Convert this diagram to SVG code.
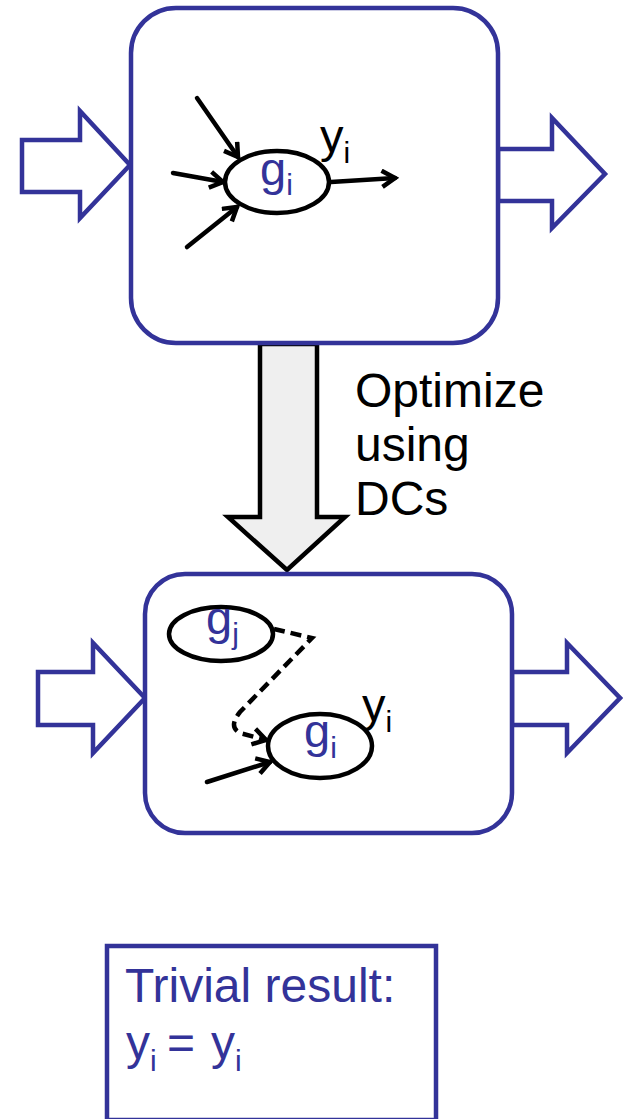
<svg xmlns="http://www.w3.org/2000/svg" width="623" height="1119" viewBox="0 0 623 1119">
<style>
.blk{fill:#fff;stroke:#333399;stroke-width:4.5;stroke-linejoin:miter}
.box{fill:#fff;stroke:#333399;stroke-width:4.5}
.node{fill:#fff;stroke:#000;stroke-width:4.5}
.wire{fill:none;stroke:#000;stroke-width:4.5;stroke-linecap:round}
.dash{fill:none;stroke:#000;stroke-width:4.5;stroke-dasharray:11 6}
.t{font-family:"Liberation Sans",Arial,sans-serif;font-size:47px}
.blue{fill:#333399}
.black{fill:#000}
.sub{font-size:30px}
</style>
<defs>
<marker id="ah" viewBox="0 0 20 20" refX="16" refY="10" markerWidth="20" markerHeight="20" markerUnits="userSpaceOnUse" orient="auto">
<path d="M3,2 L16,10 L3,18" fill="none" stroke="#000" stroke-width="4.5"/>
</marker>
</defs>

<g id="big-arrow">
<polygon points="260,344 317,344 317,517 345,517 287,570 228,517 260,517" fill="#efefef" stroke="#000" stroke-width="4.5"/>
</g>

<g id="top-block">
<polygon class="blk" points="22,140 80,140 80,111 130,165 80,218 80,192 22,192"/>
<polygon class="blk" points="498,149 552,149 552,118 605,174 552,228 552,201 498,201"/>
<rect class="box" x="131" y="8" width="367" height="335" rx="45"/>
</g>

<g id="bottom-block">
<polygon class="blk" points="38,672 93,672 93,643 145,698 93,753 93,725 38,725"/>
<polygon class="blk" points="512,672 567,672 567,643 620,698 567,753 567,725 512,725"/>
<rect class="box" x="145" y="574" width="367" height="259" rx="40"/>
</g>

<g id="connectors">
<line class="wire" x1="197" y1="98" x2="238" y2="157" marker-end="url(#ah)"/>
<line class="wire" x1="173" y1="173" x2="223" y2="182" marker-end="url(#ah)"/>
<line class="wire" x1="187" y1="247" x2="237" y2="207" marker-end="url(#ah)"/>
<line class="wire" x1="331" y1="182" x2="395" y2="178" marker-end="url(#ah)"/>
<path class="dash" d="M274,629 L312,638 L240,712 Q228,727 240,733 L266,740" marker-end="url(#ah)"/>
<line class="wire" x1="207" y1="782" x2="270" y2="762" marker-end="url(#ah)"/>
</g>

<g id="node-gi-top">
<ellipse class="node" cx="277" cy="182" rx="52" ry="31"/>
<text class="t blue" x="260" y="185">g<tspan class="sub" dy="10">i</tspan></text>
</g>
<g id="label-yi-top">
<text class="t black" x="320" y="152">y<tspan class="sub" dy="11">i</tspan></text>
</g>

<g id="node-gj">
<ellipse class="node" cx="221" cy="634" rx="52" ry="27"/>
<text class="t blue" x="206" y="634">g<tspan class="sub" dy="10">j</tspan></text>
</g>

<g id="node-gi-bottom">
<ellipse class="node" cx="320" cy="746" rx="52" ry="32"/>
<text class="t blue" x="304" y="747">g<tspan class="sub" dy="11">i</tspan></text>
</g>
<g id="label-yi-bottom">
<text class="t black" x="362" y="721">y<tspan class="sub" dy="11">i</tspan></text>
</g>

<g id="label-optimize">
<text class="t black" style="font-size:48px" x="355" y="407">Optimize</text>
<text class="t black" style="font-size:48px" x="355" y="461">using</text>
<text class="t black" style="font-size:48px" x="355" y="515">DCs</text>
</g>

<g id="result-box">
<rect x="107" y="946" width="329" height="174" fill="none" stroke="#333399" stroke-width="4.5"/>
<text class="t blue" style="font-size:48px" x="125" y="1002">Trivial result:</text>
<text class="t blue" style="font-size:48px" x="126" y="1059">y<tspan class="sub" dy="12">i</tspan><tspan x="167" dy="-12">=</tspan><tspan x="211">y</tspan><tspan class="sub" dy="12">i</tspan></text>
</g>
</svg>
